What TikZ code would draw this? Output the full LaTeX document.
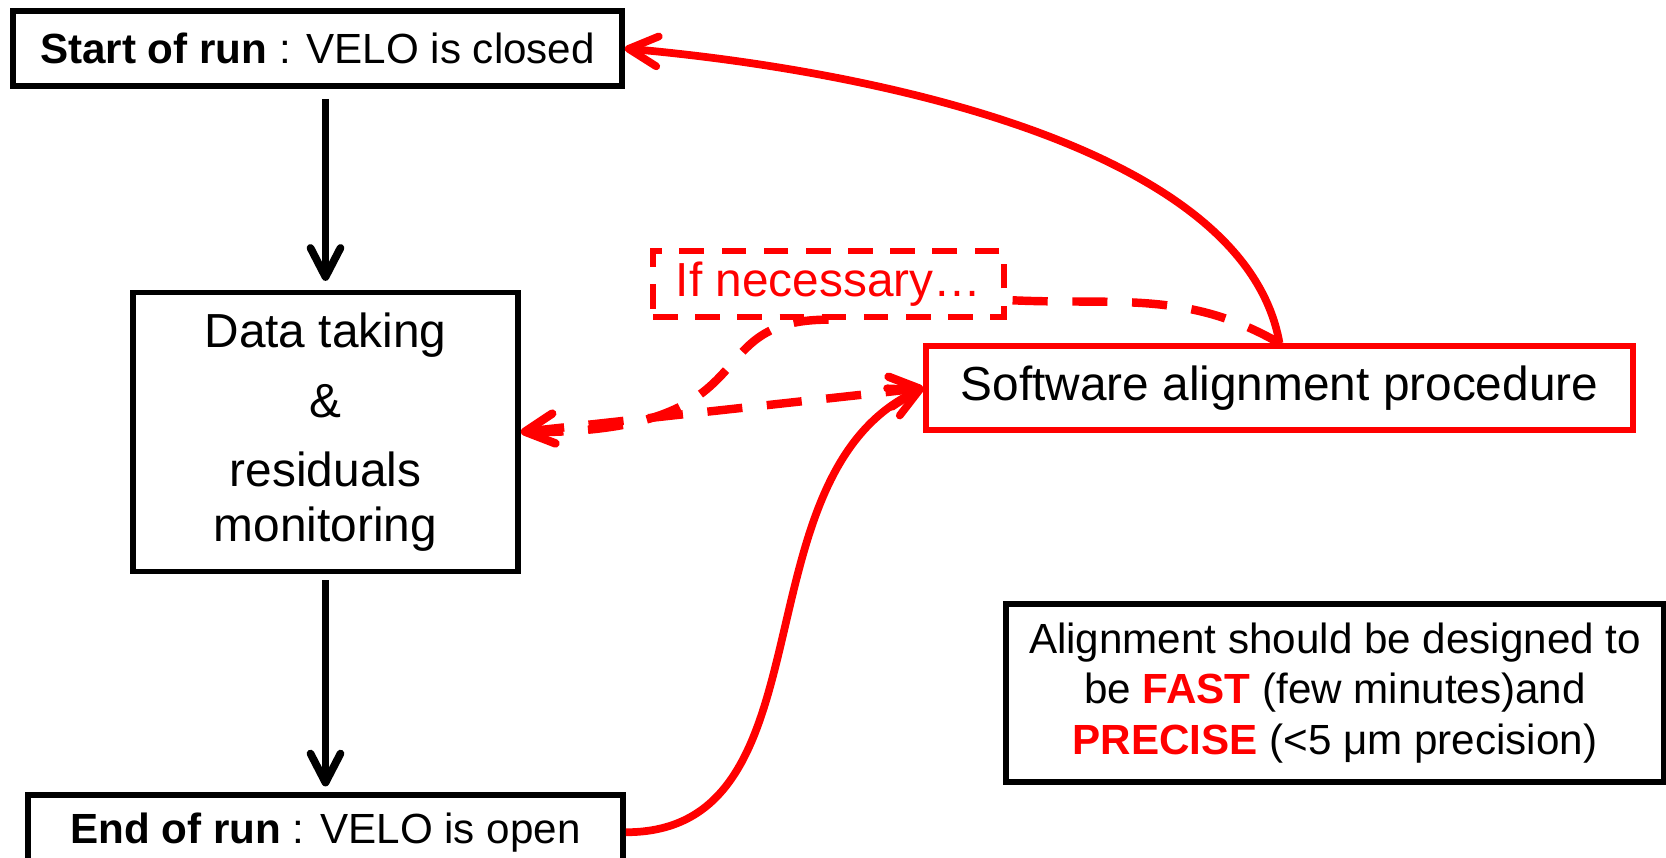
\documentclass[tikz,border=0pt]{standalone}
\usepackage{fontspec}
\setmainfont{Liberation Sans}
\usetikzlibrary{arrows.meta, positioning, calc}

\begin{document}
\begin{tikzpicture}[
    >={Straight Barb[length=2.9mm, width=3mm, round]},
    box/.style={rectangle, draw, line width=1.6pt, inner sep=0pt, align=center, font=\fontsize{12}{14.4}\selectfont},
    bigbox/.style={box, font=\fontsize{13.6}{15.6}\selectfont},
    redbox/.style={bigbox, draw=red},
    hintbox/.style={bigbox, draw=red, text=red, line width=1.5pt, dash pattern=on 7pt off 5pt, fill=white},
    downarrow/.style={->, line width=2.2pt},
    feedback/.style={->, red, line width=2.2pt},
    optline/.style={feedback, line width=2.4pt, dash pattern=on 10pt off 7pt}
]
    \useasboundingbox (0,0) rectangle (16.66,-8.57);

    \node[box, minimum width=6.09cm, minimum height=0.75cm] (start) at (3.175,-0.485) {\textbf{Start of run} : VELO is closed};
    \node[bigbox, minimum width=3.85cm, minimum height=2.79cm, below=2.01cm of start, xshift=0.08cm] (data) {Data taking\\[4.2pt]\&\\[4.2pt]residuals\\monitoring};
    \node[box, minimum width=5.95cm, minimum height=0.74cm, below=2.18cm of data] (end) {\textbf{End of run} : VELO is open};
    \node[redbox, minimum width=7.07cm, minimum height=0.84cm] (sw) at (12.795,-3.88) {Software alignment procedure};
    \node[hintbox, minimum width=3.51cm, minimum height=0.66cm] (ifnec) at (8.285,-2.84) {If necessary…};
    \node[box, minimum width=6.58cm, minimum height=1.78cm] (goal) at (13.35,-6.93) {Alignment should be designed to\\be \textcolor{red}{\textbf{FAST}} (few minutes)and\\\textcolor{red}{\textbf{PRECISE}} (<5 μm precision)};

    \draw[downarrow, shorten <=0.1cm, shorten >=0.09cm] (start.south -| data.north) -- (data.north);
    \draw[downarrow, shorten <=0.06cm, shorten >=0.06cm] (data.south) -- (data.south |- end.north);

    \draw[feedback] (sw.north) to[out=100, in=-5, looseness=0.75] (start.east);
    \draw[feedback] (end.east) to[out=0, in=205] (sw.west);

    % dashed path through the "if necessary" box
    \draw[optline, -] (sw.north) to[out=150, in=-3] ([yshift=-0.16cm]ifnec.east);
    \draw[optline, -] (ifnec.south) .. controls +(-1.38,0) and +(2.58,-0.03) .. (data.east);
    \draw[optline, <->] (data.east) -- (sw.west);
\end{tikzpicture}
\end{document}
